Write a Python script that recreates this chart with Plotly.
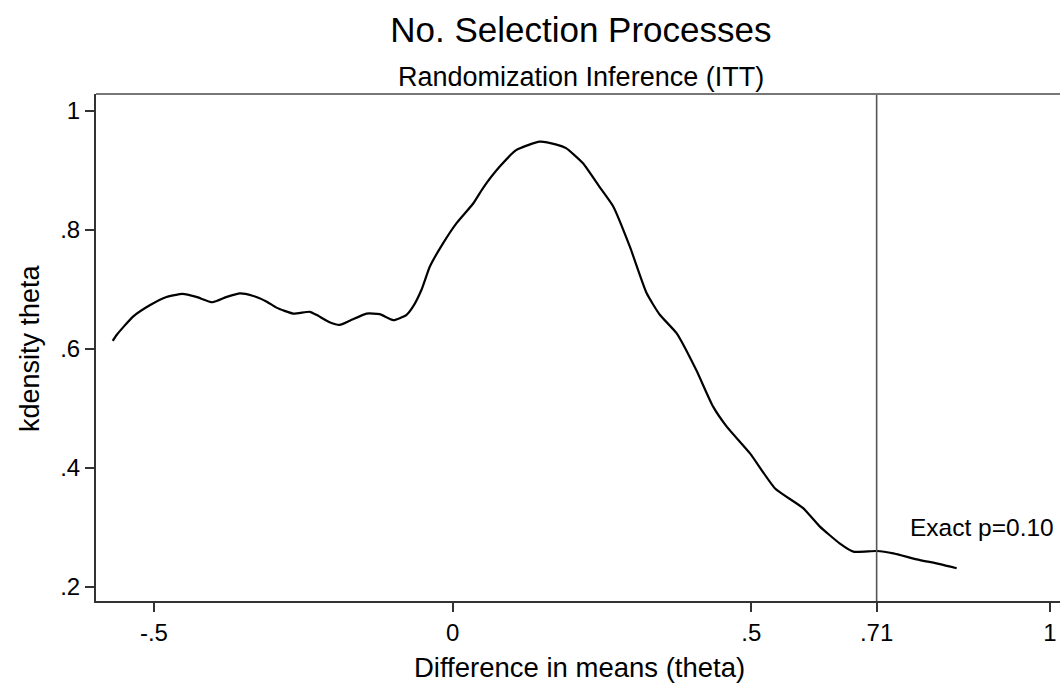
import plotly.graph_objects as go

# Kernel density of the permuted difference-in-means statistic
theta = [-0.569, -0.5625, -0.535, -0.507, -0.479, -0.452, -0.429, -0.402, -0.378,
         -0.356, -0.335, -0.311, -0.295, -0.267, -0.239, -0.228, -0.205, -0.189,
         -0.172, -0.144, -0.122, -0.099, -0.077, -0.066, -0.052, -0.038, -0.016,
         0.0067, 0.0345, 0.051, 0.079, 0.107, 0.146, 0.174, 0.190, 0.218, 0.246,
         0.269, 0.297, 0.325, 0.347, 0.375, 0.408, 0.436, 0.459, 0.498, 0.540,
         0.587, 0.615, 0.648, 0.671, 0.710, 0.738, 0.777, 0.816, 0.844]
density = [0.613, 0.623, 0.654, 0.673, 0.687, 0.692, 0.687, 0.678, 0.687,
           0.693, 0.689, 0.679, 0.669, 0.659, 0.662, 0.657, 0.644, 0.640,
           0.647, 0.659, 0.658, 0.648, 0.657, 0.671, 0.699, 0.738, 0.777,
           0.811, 0.844, 0.870, 0.906, 0.934, 0.948, 0.943, 0.937, 0.912, 0.872,
           0.839, 0.771, 0.693, 0.657, 0.626, 0.564, 0.503, 0.469, 0.424, 0.365,
           0.332, 0.301, 0.273, 0.259, 0.260, 0.256, 0.246, 0.238, 0.231]

observed_theta = 0.71
p_label = "Exact p=0.10"

x_tickvals = [-0.5, 0, 0.5, 0.71, 1]
x_ticktext = ["-.5", "0", ".5", ".71", "1"]
y_tickvals = [0.2, 0.4, 0.6, 0.8, 1.0]
y_ticktext = [".2", ".4", ".6", ".8", "1"]

FONT = "Liberation Sans, Arial, Helvetica, sans-serif"
AX = "#333333"

fig = go.Figure()
fig.add_trace(go.Scatter(
    x=theta, y=density, mode="lines",
    line=dict(color="black", width=2.2, shape="spline", smoothing=0.5),
    showlegend=False, hoverinfo="skip",
))

# observed statistic
fig.add_shape(type="line", xref="x", yref="paper", x0=observed_theta, x1=observed_theta,
              y0=0, y1=1, line=dict(color="#555555", width=1.6))
# top border of the plot region
fig.add_shape(type="line", xref="paper", yref="paper", x0=0, x1=1, y0=1, y1=1,
              line=dict(color="#777777", width=2))

fig.add_annotation(x=0.762, y=0.299, xref="x", yref="y", text=p_label,
                   showarrow=False, xanchor="left", yanchor="middle",
                   font=dict(family=FONT, size=24.5, color="black"))

fig.add_annotation(x=0.503, y=1.0335, xref="paper", yref="paper",
                   text="Randomization Inference (ITT)", showarrow=False,
                   xanchor="center", yanchor="middle",
                   font=dict(family=FONT, size=27, color="black"))
fig.add_annotation(x=0.502, y=-0.132, xref="paper", yref="paper",
                   text="Difference in means (theta)", showarrow=False,
                   xanchor="center", yanchor="middle",
                   font=dict(family=FONT, size=27.5, color="black"))
fig.add_annotation(x=-0.0685, y=0.499, xref="paper", yref="paper",
                   text="kdensity theta", showarrow=False, textangle=-90,
                   xanchor="center", yanchor="middle",
                   font=dict(family=FONT, size=27, color="black"))

fig.update_layout(
    width=1060, height=687,
    margin=dict(l=96, r=0, t=94, b=86),
    paper_bgcolor="white", plot_bgcolor="white",
    title=dict(text="No. Selection Processes", x=0.548, xref="container", xanchor="center",
               y=1 - 30 / 687, yref="container", yanchor="middle",
               font=dict(family=FONT, size=35, color="black")),
    font=dict(family=FONT, color="black"),
    xaxis=dict(range=[-0.597, 1.017], tickvals=x_tickvals, ticktext=x_ticktext,
               showgrid=False, zeroline=False, showline=True, linecolor=AX, linewidth=2,
               ticks="outside", ticklen=9, tickwidth=2, tickcolor=AX,
               tickfont=dict(family=FONT, size=24, color="black")),
    yaxis=dict(range=[0.176, 1.028], tickvals=y_tickvals, ticktext=y_ticktext,
               showgrid=False, zeroline=False, showline=True, linecolor=AX, linewidth=2,
               ticks="outside", ticklen=9, tickwidth=2, tickcolor=AX,
               tickfont=dict(family=FONT, size=24, color="black")),
)

fig.write_html("out.html")
